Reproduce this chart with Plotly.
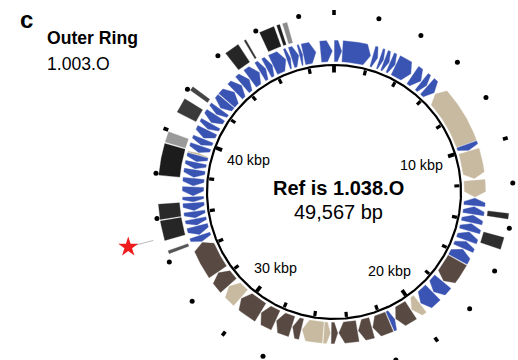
import numpy as np
import plotly.graph_objects as go

GENOME_LEN = 49567

# Annotated genes: start / end (bp), strand and functional class
gene_start = [28, 482, 2203, 2616, 2891, 3236, 3580, 4681, 5301, 5714,
              6334, 9680, 10079, 11745, 12736, 13218, 13700, 14182, 14664, 15215,
              15697, 16385, 17831, 18657, 19621, 20240, 21273, 21617, 22650, 23476,
              24578, 24990, 25404, 26643, 27194, 28158, 29121, 30498, 31462, 32426,
              34353, 34767, 35317, 35731, 36144, 36626, 36970, 37521, 38002, 38484,
              38897, 39283, 39421, 39861, 40274, 40825, 41238, 41789, 42202, 42753,
              43441, 43992, 44543, 45231, 45644, 46043, 46883, 47158, 47627, 47847,
              48825]
gene_end = [427, 2065, 2478, 2823, 3167, 3525, 4544, 5232, 5645, 6224,
            9638, 10024, 11635, 12667, 13149, 13631, 14113, 14595, 15146, 15628,
            16316, 17762, 18588, 19552, 20172, 21204, 21548, 22581, 23407, 24509,
            24922, 25335, 26574, 27125, 28089, 29052, 30430, 31393, 32357, 34284,
            34698, 35249, 35662, 36075, 36557, 36901, 37452, 37934, 38415, 38829,
            39242, 39365, 39792, 40206, 40756, 41169, 41720, 42133, 42684, 43372,
            43923, 44474, 45163, 45576, 45988, 46815, 47089, 47572, 47792, 48549,
            49472]
gene_strand = [1, 1, 1, 1, 1, 1, 1, 1, 1, 1,
               -1, 1, 1, 1, -1, -1, -1, -1, -1, -1,
               -1, 1, 1, 1, 1, 1, -1, 1, 1, 1,
               -1, -1, 1, 1, 1, 1, 1, 1, 1, 1,
               -1, -1, -1, -1, -1, -1, -1, -1, -1, -1,
               -1, 1, -1, -1, -1, -1, -1, -1, -1, 1,
               1, 1, 1, 1, 1, 1, 1, 1, 1, 1,
               1]
gene_class = (["cds"] * 10 + ["module_a", "cds", "module_a", "module_a"] + ["cds"] * 7
              + ["module_b", "cds", "cds", "module_a", "module_b", "cds", "module_b", "module_b", "module_b",
                 "module_b", "module_a", "module_a", "module_b", "module_b", "module_b", "module_b",
                 "module_a", "module_b", "module_b"]
              + ["cds"] * 11 + ["module_a"] + ["cds"] * 19)

class_colour = {"cds": "#3a54b4", "module_a": "#c8baa0", "module_b": "#584942"}

# Outer ring: hits against the compared genome (1.003.O)
hit_start = [44336, 45341, 46126, 46952, 47227, 42036, 40894, 39448, 37934, 35937, 34973, 34353, 13356, 14457]
hit_end = [45023, 45424, 46815, 47089, 47433, 42229, 41582, 39930, 39379, 36626, 35868, 34491, 13604, 15008]
hit_shade = ["#262626", "#333333", "#1e1e1e", "#1e1e1e", "#8c8c8c", "#444444", "#3a3a3a",
             "#9a9a9a", "#1c1c1c", "#2a2a2a", "#262626", "#555555", "#2a2a2a", "#2e2e2e"]

TICK_STEP = 2000
LABEL_KBP = [10, 20, 30, 40]
STAR_POS = 35111

# radii (px, one axis unit = one pixel)
R_BACKBONE = 127
R_GENE_IN, R_GENE_OUT = 130.5, 151.5
R_HIT_IN, R_HIT_OUT = 155, 176
R_DOT = 179


def polar_xy(bp, r):
    a = 2 * np.pi * np.asarray(bp, dtype=float) / GENOME_LEN
    return r * np.sin(a), r * np.cos(a)


def arc(b0, b1, r, n=None):
    n = n or max(4, int(abs(b1 - b0) / 60) + 2)
    return polar_xy(np.linspace(b0, b1, n), r)


def arrow_shape(s, e, strand, r0, r1, tip_bp=300):
    tip = min(tip_bp, 0.55 * (e - s))
    rm = (r0 + r1) / 2
    if strand > 0:
        b = e - tip
        xo, yo = arc(s, b, r1)
        xt, yt = polar_xy([e], rm)
        xi, yi = arc(b, s, r0)
        xs = np.concatenate([xo, xt, xi, xo[:1]])
        ys = np.concatenate([yo, yt, yi, yo[:1]])
    else:
        b = s + tip
        xt, yt = polar_xy([s], rm)
        xo, yo = arc(b, e, r1)
        xi, yi = arc(e, b, r0)
        xs = np.concatenate([xt, xo, xi, xt])
        ys = np.concatenate([yt, yo, yi, yt])
    return xs, ys


def block_shape(s, e, r0, r1):
    xo, yo = arc(s, e, r1)
    xi, yi = arc(e, s, r0)
    return np.concatenate([xo, xi, xo[:1]]), np.concatenate([yo, yi, yo[:1]])


fig = go.Figure()

# gene ring
for s, e, st, c in zip(gene_start, gene_end, gene_strand, gene_class):
    xs, ys = arrow_shape(s, e, st, R_GENE_IN, R_GENE_OUT)
    col = class_colour[c]
    fig.add_trace(go.Scatter(x=xs, y=ys, mode="lines", fill="toself", fillcolor=col,
                             line=dict(width=0.4, color=col), hoverinfo="skip"))

# comparison hits
for s, e, c in zip(hit_start, hit_end, hit_shade):
    xs, ys = block_shape(s, e, R_HIT_IN, R_HIT_OUT)
    fig.add_trace(go.Scatter(x=xs, y=ys, mode="lines", fill="toself", fillcolor=c,
                             line=dict(width=0.3, color=c), hoverinfo="skip"))

# backbone
bx, by = arc(0, GENOME_LEN, R_BACKBONE, 721)
fig.add_trace(go.Scatter(x=bx, y=by, mode="lines", line=dict(color="black", width=2.2), hoverinfo="skip"))

# ticks every 2 kbp: inner dashes and outer dots, longer at each 10 kbp
tick_pos = np.arange(0, GENOME_LEN, TICK_STEP)
minor = [p for p in tick_pos if p % 10000]
major = [p for p in tick_pos if p % 10000 == 0]


def radial_segments(positions, r0, r1):
    xs, ys = [], []
    for p in positions:
        x0, y0 = polar_xy(p, r0)
        x1, y1 = polar_xy(p, r1)
        xs += [x0, x1, None]
        ys += [y0, y1, None]
    return xs, ys


for pos, r0, r1, w in [(minor, 120.5, 125.5, 3.2), (major, 119.5, 126, 3.8),
                       (major, 177, 182, 3.6)]:
    xs, ys = radial_segments(pos, r0, r1)
    fig.add_trace(go.Scatter(x=xs, y=ys, mode="lines", line=dict(color="black", width=w), hoverinfo="skip"))

dx, dy = polar_xy(minor, R_DOT)
fig.add_trace(go.Scatter(x=dx, y=dy, mode="markers", marker=dict(color="black", size=5, line=dict(width=0)),
                         hoverinfo="skip"))

# marked locus
lx, ly = radial_segments([STAR_POS], 187, 205)
fig.add_trace(go.Scatter(x=lx, y=ly, mode="lines", line=dict(color="#aaaaaa", width=0.8), hoverinfo="skip"))
sx, sy = polar_xy([STAR_POS], 213)
fig.add_trace(go.Scatter(x=sx, y=sy, mode="markers",
                         marker=dict(symbol="star", color="#ee1c1c", size=15, line=dict(width=0)),
                         hoverinfo="skip"))

FONT = "Liberation Sans, Arial, sans-serif"
annotations = []
for k in LABEL_KBP:
    p = k * 1000
    a = 2 * np.pi * p / GENOME_LEN
    r = 114 - (abs(np.sin(a)) * 22 + abs(np.cos(a)) * 6)
    x, y = polar_xy(p, r)
    annotations.append(dict(x=float(x), y=float(y), text=f"{k} kbp", showarrow=False,
                            font=dict(family=FONT, size=14.3, color="black"),
                            xanchor="center", yanchor="middle"))

annotations += [
    dict(x=4.5, y=4, text="<b>Ref is 1.038.O</b>", showarrow=False,
         font=dict(family=FONT, size=20, color="black"), xanchor="center", yanchor="middle"),
    dict(x=4, y=-20, text="49,567 bp", showarrow=False,
         font=dict(family=FONT, size=20, color="black"), xanchor="center", yanchor="middle"),
    dict(xref="paper", yref="paper", x=18 / 518, y=1 - 19 / 360, text="<b>c</b>", showarrow=False,
         font=dict(family=FONT, size=24, color="black"), xanchor="left", yanchor="middle"),
    dict(xref="paper", yref="paper", x=45 / 518, y=1 - 38 / 360, text="<b>Outer Ring</b>", showarrow=False,
         font=dict(family=FONT, size=17.6, color="black"), xanchor="left", yanchor="middle"),
    dict(xref="paper", yref="paper", x=45 / 518, y=1 - 64 / 360, text="1.003.O", showarrow=False,
         font=dict(family=FONT, size=17.6, color="black"), xanchor="left", yanchor="middle"),
]

fig.update_layout(
    width=518, height=360,
    margin=dict(l=0, r=0, t=0, b=0),
    paper_bgcolor="white", plot_bgcolor="white",
    showlegend=False,
    xaxis=dict(range=[-334, 184], visible=False, fixedrange=True),
    yaxis=dict(range=[-168, 192], visible=False, fixedrange=True),
    annotations=annotations,
)

fig.write_html("out.html")
